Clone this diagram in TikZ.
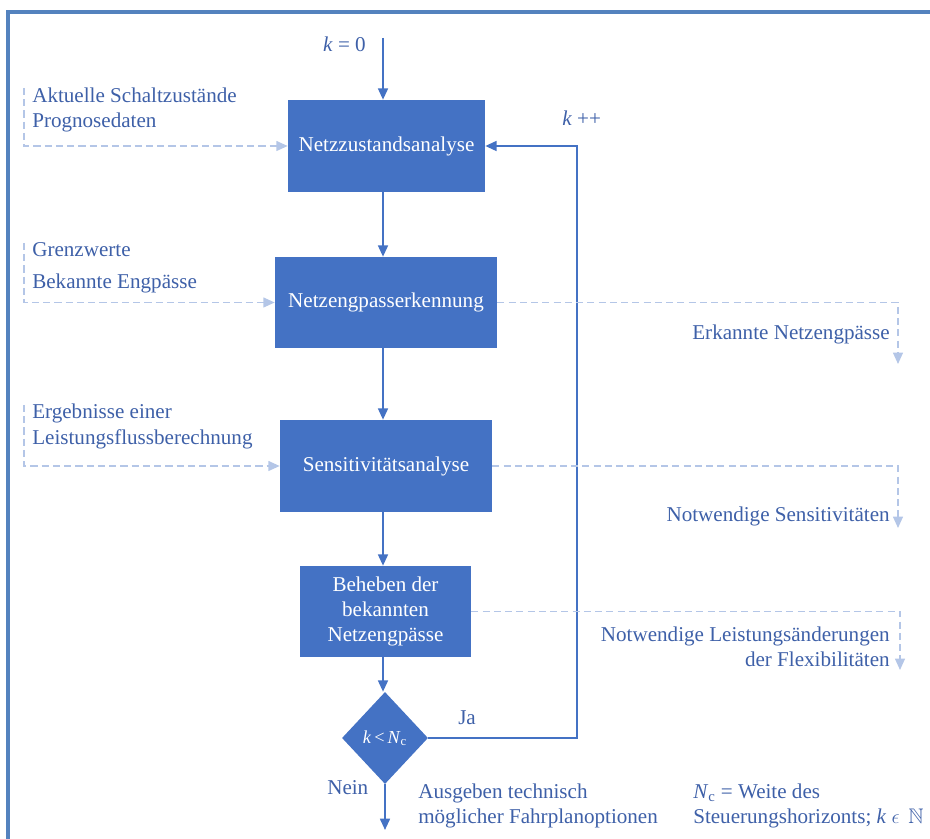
\documentclass[tikz,border=0pt]{standalone}
\usepackage{amssymb}
\usepackage{fontspec}
\setmainfont{Liberation Serif}
\usetikzlibrary{shapes.geometric, arrows.meta, positioning}
\definecolor{boxblue}{RGB}{68,114,196}
\definecolor{txtblue}{RGB}{62,96,168}
\definecolor{framblue}{RGB}{84,130,190}
\definecolor{dashblue}{RGB}{180,198,231}
\tikzset{
  procbox/.style={rectangle, fill=boxblue, text=white, align=center,
    inner sep=2pt, font=\fontsize{15pt}{18pt}\selectfont},
  decide/.style={diamond, fill=boxblue, text=white, inner sep=0pt,
    minimum width=2.15cm, minimum height=2.3cm,
    font=\fontsize{13pt}{15pt}\selectfont},
  info/.style={text=txtblue, inner sep=0pt,
    font=\fontsize{15pt}{18pt}\selectfont},
  flow/.style={-{Triangle[length=8pt,width=7pt]}, line width=1.4pt, draw=boxblue},
  dataflow/.style={-{Triangle[length=8pt,width=7pt]}, line width=1pt,
    draw=dashblue, dash pattern=on 5pt off 3pt},
  frameline/.style={line width=2.2pt, draw=framblue}
}

\begin{document}
\begin{tikzpicture}[x=0.025cm, y=-0.025cm]
  \useasboundingbox (0,0) rectangle (930,839);
  % frame
  \draw[frameline] (8,839) -- (8,12) -- (930,12);

  % process chain
  \node[procbox, minimum width=4.925cm, minimum height=2.3cm] (analyse) at (386.5,146) {Netzzustandsanalyse};
  \node[procbox, minimum width=5.55cm, minimum height=2.275cm] (detect) at (386,302.5) {Netzengpasserkennung};
  \node[procbox, minimum width=5.3cm, minimum height=2.3cm] (sensi) at (386,466) {Sensitivitätsanalyse};
  \node[procbox, minimum width=4.275cm, minimum height=2.275cm] (fix) at (385.5,611.5) {Beheben der\\bekannten\\Netzengpässe};
  \node[decide] (cond) at (385,738) {\textit{k}\,<\,\textit{N}\textsubscript{c}};

  \coordinate (start) at (383,38);
  \coordinate (finish) at (385,830);
  \coordinate (loopx) at (577,0);

  \draw[flow] (start) -- (start |- analyse.north);
  \draw[flow] (analyse.south -| start) -- (detect.north -| start);
  \draw[flow] (detect.south -| start) -- (sensi.north -| start);
  \draw[flow] (sensi.south -| start) -- (fix.north -| start);
  \draw[flow] (fix.south -| start) -- (cond.north -| start);
  \draw[flow] (cond.south) -- (finish);
  \draw[flow] (cond.east) -- (cond.east -| loopx) |- (analyse.east);

  \node[info, anchor=east] (k0) at (366,44) {\textit{k} = 0};
  \node[info, anchor=west] (kinc) at (562,118) {\textit{k} ++};
  \node[info, anchor=west] (yes) at (458,718) {Ja};
  \node[info, anchor=west] (no) at (327,788) {Nein};

  % inputs
  \coordinate (in1) at (24,88);
  \coordinate (in2) at (24,243);
  \coordinate (in3) at (24,405);
  \draw[dataflow] (in1) |- (analyse.west);
  \draw[dataflow] (in2) |- (detect.west);
  \draw[dataflow] (in3) |- (sensi.west);
  \node[info, anchor=west, align=left] (inA) at (32,110) {Aktuelle Schaltzustände\\Prognosedaten};
  \node[info, anchor=west, align=left] (inB) at (32,268) {Grenzwerte\\[5pt]Bekannte Engpässe};
  \node[info, anchor=west, align=left] (inC) at (32,426.5) {Ergebnisse einer\\Leistungsflussberechnung};

  % outputs
  \coordinate (out1) at (898,364);
  \coordinate (out2) at (898,528);
  \coordinate (out3) at (900,670);
  \draw[dataflow] (detect.east) -| (out1);
  \draw[dataflow] (sensi.east) -| (out2);
  \draw[dataflow] (fix.east) -| (out3);
  \node[info, anchor=east] (outA) at (890,334) {Erkannte Netzengpässe};
  \node[info, anchor=east] (outB) at (890,516) {Notwendige Sensitivitäten};
  \node[info, anchor=east, align=right] (outC) at (890,647) {Notwendige Leistungsänderungen\\der Flexibilitäten};

  % bottom notes
  \node[info, anchor=west, align=left] (result) at (418,806) {Ausgeben technisch\\möglicher Fahrplanoptionen};
  \node[info, anchor=west, align=left] (note) at (693,806) {\textit{N}\textsubscript{c} = Weite des\\Steuerungshorizonts; \textit{k} $\epsilon$\, $\mathbb{N}$};
\end{tikzpicture}
\end{document}
